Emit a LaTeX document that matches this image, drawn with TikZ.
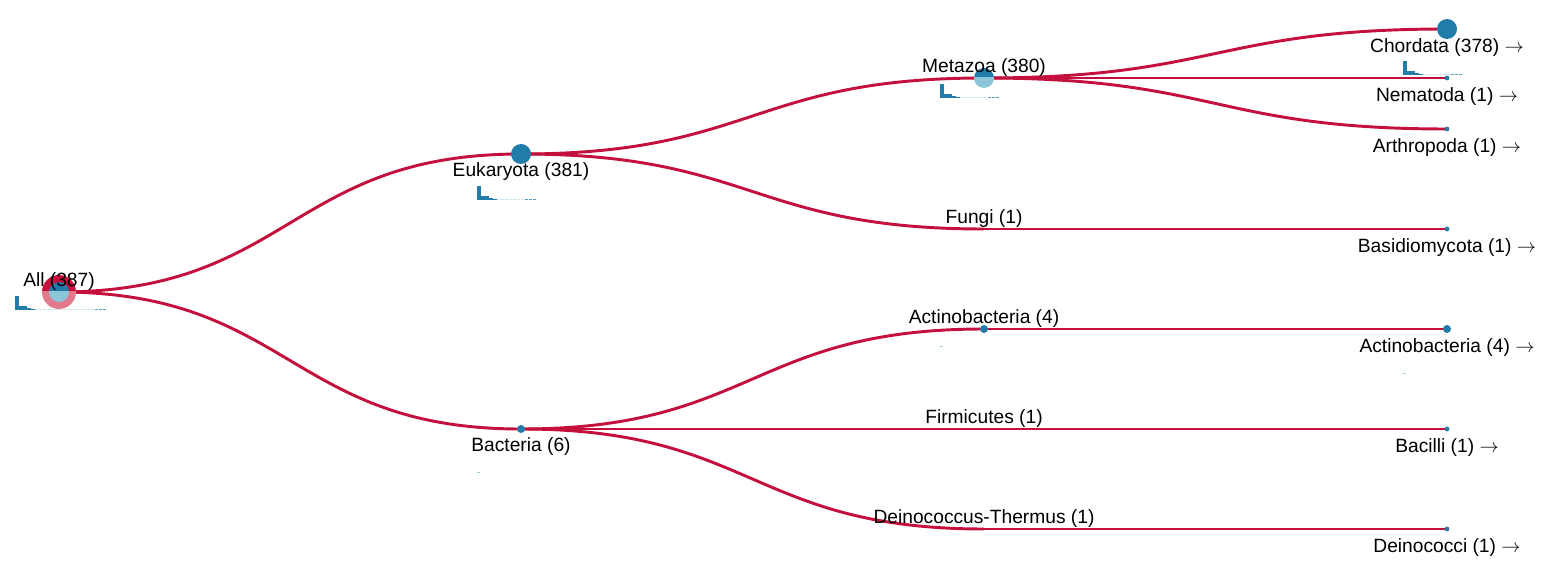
\documentclass[tikz,border=0pt]{standalone}
\usepackage{fontspec}
\setmainfont{Liberation Sans}
\usetikzlibrary{calc}
\definecolor{crim}{RGB}{196,16,60}
\definecolor{tblue}{RGB}{33,124,170}
\definecolor{lblue}{RGB}{140,196,218}
\definecolor{pinkc}{RGB}{226,122,142}
% split dot: upper half / lower half
\newcommand\halfdot[4]{%
  \begin{scope}\clip ($(#1)+(-#2,-#2)$) rectangle ($(#1)+(#2,0)$);
    \fill[#3] (#1) circle[radius=#2];\end{scope}
  \begin{scope}\clip ($(#1)+(-#2,0)$) rectangle ($(#1)+(#2,#2)$);
    \fill[#4] (#1) circle[radius=#2];\end{scope}}
% little histogram under a node
\newcommand\histo[3]{%
  \foreach \h [count=\i from 0] in {14,4,4,2,1}
    \fill[tblue] ($(#1)+(-44+4*\i,#2)$) rectangle ++(3.6,-\h);
  \foreach \i in {5,...,#3}
    \fill[lblue!45] ($(#1)+(-44+4*\i,#2)$) rectangle ++(3.4,-1.2);
  \foreach \j in {1,2,3}
    \fill[tblue!75] ($(#1)+(-44+4*#3+4*\j,#2)$) rectangle ++(3.4,-1.2);}
\begin{document}
\begin{tikzpicture}[x=0.75pt,y=-0.75pt,
 edge/.style={crim,line width=2.2pt},
 bigdot/.style={circle,fill=tblue,inner sep=0pt,minimum size=15pt},
 middot/.style={circle,fill=tblue,inner sep=0pt,minimum size=6pt},
 enddot/.style={circle,fill=tblue,inner sep=0pt,minimum size=3.6pt},
 lbl/.style={inner sep=0pt,font=\fontsize{14.4}{17}\selectfont}]
\useasboundingbox (0,0) rectangle (1548,573);
% tree positions
\foreach \n/\x/\y in {all/59/292,euk/521/154,bac/521/429,meta/984/78,fungi/984/229,
  actm/984/329,firm/984/429,dein/984/529,chor/1447/29,nema/1447/78,arth/1447/129,
  basi/1447/229,acte/1447/329,baci/1447/429,deco/1447/529}
  \coordinate (\n) at (\x,\y);
\foreach \a/\b in {all/euk,all/bac,euk/meta,euk/fungi,bac/actm,bac/firm,bac/dein,
  meta/chor,meta/nema,meta/arth,fungi/basi,actm/acte,firm/baci,dein/deco}
  \draw[edge] let \p1=(\a), \p2=(\b) in
    (\p1) .. controls ({(\x1+\x2)/2},\y1) and ({(\x1+\x2)/2},\y2) .. (\p2);
% dots
\halfdot{all}{17}{crim}{pinkc}
\halfdot{all}{10}{tblue}{lblue}
\halfdot{meta}{10}{tblue}{lblue}
\foreach \n in {euk,chor} \node[bigdot] (\n-d) at (\n) {};
\foreach \n in {bac,actm,acte} \node[middot] (\n-d) at (\n) {};
\foreach \n in {nema,arth,basi,baci,deco} \node[enddot] (\n-d) at (\n) {};
% histograms
\histo{all}{18}{19}
\histo{euk}{46}{11}
\histo{meta}{20}{11}
\histo{chor}{46}{11}
\foreach \n/\d in {actm/18,acte/45,bac/44}
  \fill[lblue!80] ($(\n)+(-44,\d)$) rectangle ++(3.4,-1.4);
% labels
\foreach \n/\d/\t in {all/-10/All (387),euk/18/Eukaryota (381),bac/18/Bacteria (6),
  meta/-10/Metazoa (380),fungi/-10/Fungi (1),actm/-10/Actinobacteria (4),
  firm/-10/Firmicutes (1),dein/-10/Deinococcus-Thermus (1)}
  \node[lbl] (\n-l) at ($(\n)+(0,\d)$) {\t};
\foreach \n/\t in {chor/Chordata (378),nema/Nematoda (1),arth/Arthropoda (1),
  basi/Basidiomycota (1),acte/Actinobacteria (4),baci/Bacilli (1),deco/Deinococci (1)}
  \node[lbl] (\n-l) at ($(\n)+(0,18.5)$) {\t\ $\rightarrow$};
\end{tikzpicture}
\end{document}
